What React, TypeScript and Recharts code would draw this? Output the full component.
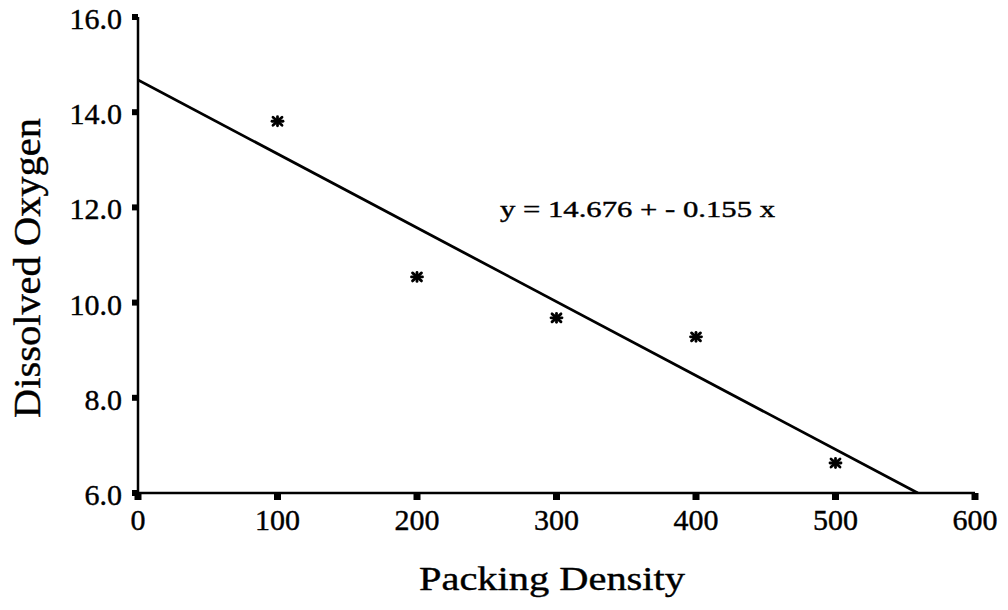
import React from 'react';
import { ComposedChart, Scatter, Line, XAxis, YAxis, Customized } from 'recharts';

const packingDensity = [100, 200, 300, 400, 500];
const dissolvedOxygen = [13.81, 10.54, 9.68, 9.28, 6.63];
const fitX = [0, 559];
const fitY = [14.676, 6.0];
const xTicks = [0, 100, 200, 300, 400, 500, 600];
const yTicks = [6, 8, 10, 12, 14, 16];
const equationText = 'y = 14.676 + - 0.155 x';
const xTitle = 'Packing Density';
const yTitle = 'Dissolved Oxygen';

const points = packingDensity.map((x, i) => ({ x, y: dissolvedOxygen[i] }));
const fitLine = fitX.map((x, i) => ({ x, y: fitY[i] }));

const FONT = 'Liberation Serif';

const Asterisk = (props: any) => {
  const { cx, cy } = props;
  if (cx == null || cy == null) return null;
  return (
    <g stroke="#000" strokeWidth={2.8} strokeLinecap="round">
      <line x1={cx - 5.5} y1={cy} x2={cx + 5.5} y2={cy} />
      <line x1={cx - 4.5} y1={cy - 4} x2={cx + 4.5} y2={cy + 4} />
      <line x1={cx - 4.5} y1={cy + 4} x2={cx + 4.5} y2={cy - 4} />
      <line x1={cx} y1={cy - 4.5} x2={cx} y2={cy + 4.5} />
    </g>
  );
};

const XTick = (props: any) => {
  const { x, y, payload } = props;
  return (
    <text x={x} y={y + 18} fontFamily={FONT} fontSize={30} fill="#000" stroke="#000" strokeWidth={0.4} textAnchor="middle">
      {payload.value}
    </text>
  );
};

const YTick = (props: any) => {
  const { x, y, payload } = props;
  return (
    <text x={x} y={y + 12} fontFamily={FONT} fontSize={30} fill="#000" stroke="#000" strokeWidth={0.4} textAnchor="end">
      {Number(payload.value).toFixed(1)}
    </text>
  );
};

const Texts = () => (
  <g fontFamily={FONT} fill="#000" stroke="#000" strokeWidth={0.4}>
    <text x={500} y={217} fontSize={23} textLength={275} lengthAdjust="spacingAndGlyphs">
      {equationText}
    </text>
    <text x={419} y={590} fontSize={33} textLength={266} lengthAdjust="spacingAndGlyphs">
      {xTitle}
    </text>
    <text
      x={40}
      y={268}
      fontSize={37}
      textAnchor="middle"
      textLength={300}
      lengthAdjust="spacingAndGlyphs"
      transform="rotate(-90 40 268)"
    >
      {yTitle}
    </text>
  </g>
);

export default function App() {
  return (
    <div style={{ margin: -8, width: 1008, height: 610, background: '#fff' }}>
      <ComposedChart
        width={1008}
        height={610}
        margin={{ top: 17, right: 33, bottom: 0, left: 0 }}
      >
        <XAxis
          type="number"
          dataKey="x"
          domain={[0, 600]}
          ticks={xTicks}
          allowDataOverflow
          height={117}
          axisLine={{ stroke: '#000', strokeWidth: 2.5 }}
          tickLine={{ stroke: '#000', strokeWidth: 7 }}
          tickSize={7}
          tickMargin={12}
          tick={<XTick />}
          interval={0}
        />
        <YAxis
          type="number"
          dataKey="y"
          domain={[6, 16]}
          ticks={yTicks}
          allowDataOverflow
          width={138}
          axisLine={{ stroke: '#000', strokeWidth: 2.5 }}
          tickLine={{ stroke: '#000', strokeWidth: 6 }}
          tickSize={6}
          tickMargin={10}
          tick={<YTick />}
          interval={0}
        />
        <Line
          data={fitLine}
          dataKey="y"
          type="linear"
          stroke="#000"
          strokeWidth={2.8}
          dot={false}
          isAnimationActive={false}
        />
        <Scatter data={points} dataKey="y" shape={<Asterisk />} isAnimationActive={false} />
        <Customized component={Texts} />
      </ComposedChart>
    </div>
  );
}
